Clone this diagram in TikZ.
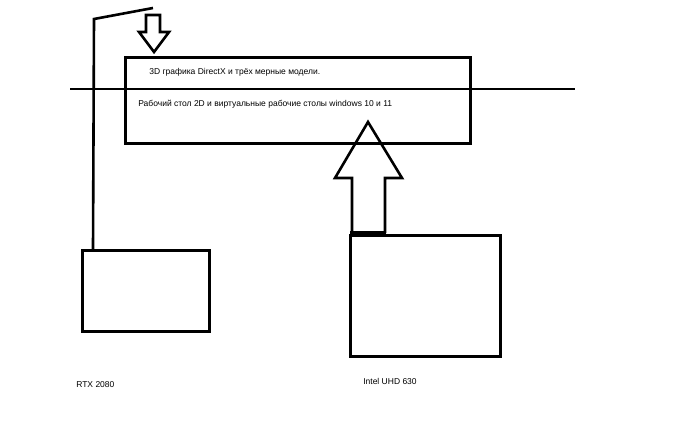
\documentclass[tikz,border=0pt]{standalone}
\usepackage{fontspec}
\setmainfont{Liberation Sans}
\begin{document}
\begin{tikzpicture}[x=1pt, y=-1pt, line width=2.6pt,
    box/.style={draw, rectangle, inner sep=0pt, anchor=north west},
    lbl/.style={anchor=west, font=\fontsize{8.5}{10}\selectfont, inner sep=0pt}]
    \useasboundingbox (0,0) rectangle (700,447);

    % screen
    \node[box, minimum width=345pt, minimum height=86pt] (screen) at (124,56) {};
    \node[lbl] (top) at (148,72) {3D графика DirectX и трёх мерные модели.};
    \node[lbl] (bottom) at (137,104) {Рабочий стол 2D и виртуальные рабочие столы windows 10 и 11};
    \coordinate (splitl) at (70,89);
    \coordinate (splitr) at (575,89);
    \draw (splitl) -- (splitr);

    % graphics cards
    \node[box, minimum width=127pt, minimum height=81pt] (rtx) at (81,249) {};
    \node[box, minimum width=150pt, minimum height=121pt] (intel) at (349,234) {};
    \node[lbl] at (75,385) {RTX 2080};
    \node[lbl] at (362,381) {Intel UHD 630};

    % cable from rtx
    \coordinate (up) at (94,19);
    \coordinate (cend) at (153,8);
    \draw (rtx.north west) ++(12,0) -- (up) -- (cend);

    % arrows
    \draw[line join=miter] (146,15) -- (160,15) -- (160,32) -- (169,32)
        -- (154,52) -- (139,32) -- (146,32) -- cycle;
    \draw[line join=miter] (352,233) -- (352,178) -- (335,178) -- (368,122)
        -- (402,178) -- (385,178) -- (385,233);
    \draw[line width=5pt] (350,233) -- (386,233);
\end{tikzpicture}
\end{document}
